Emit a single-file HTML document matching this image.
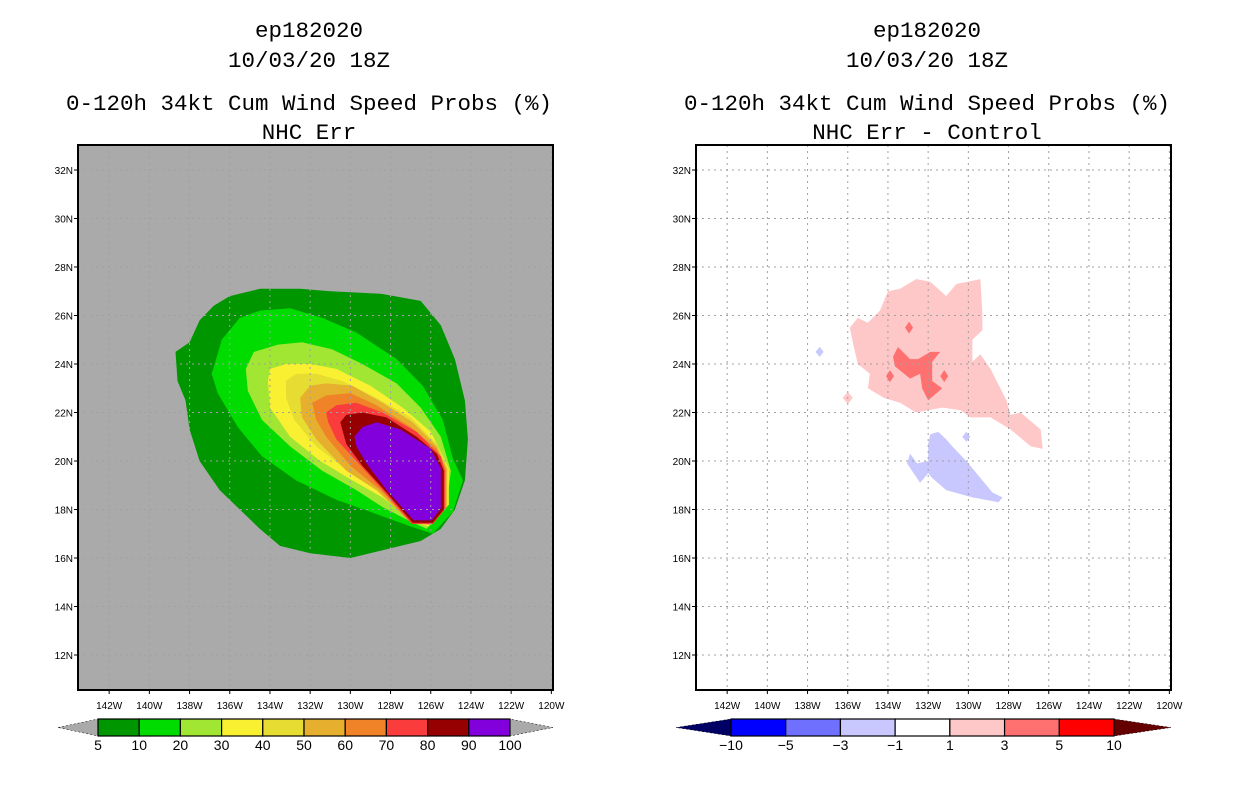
<!DOCTYPE html>
<html><head><meta charset="utf-8">
<style>
html,body{margin:0;padding:0;background:#fff;}
svg{display:block;font-family:"Liberation Sans",sans-serif;}
.t{font-family:"Liberation Mono",monospace;font-size:22.5px;fill:#000;}
.ax{font-size:10px;fill:#000;}
</style></head>
<body>
<svg id="root" width="1236" height="800" viewBox="0 0 1236 800">
</svg>
<script>
// ---------- data ----------
const lonTicks=[142,140,138,136,134,132,130,128,126,124,122,120];
const latTicks=[32,30,28,26,24,22,20,18,16,14,12];
const leftLevels=["5","10","20","30","40","50","60","70","80","90","100"];
const leftColors=["#009600","#00dc00","#a0e632","#faf032","#e6dc32","#e6af2d","#f08228","#fa3c3c","#960000","#8200dc"];
const rightLevels=["-10","-5","-3","-1","1","3","5","10"];
const rightColors=["#0000ff","#7070ff","#c8c8ff","#ffffff","#ffc8c8","#ff7070","#ff0000"];
// contour polygons [lonW, latN]
const p5=[[134.5,27.1],[132.5,27.1],[131.0,27.0],[128.5,26.9],[126.5,26.6],[125.5,25.6],[124.8,24.2],[124.3,22.5],[124.15,20.9],[124.3,19.2],[124.8,18.0],[125.5,17.2],[126.5,16.7],[128.0,16.4],[130.0,16.0],[132.0,16.2],[133.5,16.5],[134.5,17.2],[135.5,18.0],[136.5,18.8],[137.5,20.0],[138.0,21.3],[138.2,22.5],[138.6,23.3],[138.7,24.5],[138.0,24.9],[137.5,25.8],[136.8,26.4],[136.0,26.8]];
const p10=[[136.4,25.0],[135.5,25.9],[134.5,26.2],[133.0,26.3],[131.4,25.9],[129.7,25.3],[127.7,24.2],[126.4,23.1],[125.4,21.7],[124.9,20.1],[124.4,19.2],[124.9,17.9],[125.9,17.0],[127.0,17.3],[129.0,17.9],[130.7,18.4],[132.7,19.2],[134.4,20.2],[135.6,21.4],[136.6,22.8],[136.9,23.6],[136.5,24.7]];
const p20=[[135.2,23.8],[134.8,24.5],[133.6,24.8],[132.4,24.9],[130.9,24.6],[129.4,24.0],[127.7,23.2],[126.5,22.2],[125.5,21.0],[125.0,19.6],[125.2,18.3],[126.2,17.2],[127.0,17.5],[128.4,18.1],[129.7,18.8],[131.4,19.6],[133.0,20.6],[134.4,21.7],[135.1,22.9]];
const p30=[[134.1,23.3],[134.0,23.8],[133.2,24.0],[132.0,24.0],[130.7,23.8],[129.0,23.1],[127.4,22.2],[126.0,21.2],[125.1,19.7],[125.1,18.2],[126.1,17.3],[126.9,17.5],[128.4,18.5],[129.9,19.2],[131.5,20.0],[133.0,21.0],[134.0,22.2]];
const p40=[[133.2,23.3],[132.7,23.6],[131.7,23.6],[130.4,23.3],[128.7,22.6],[127.0,21.8],[125.7,20.7],[125.15,19.7],[125.15,18.15],[126.05,17.35],[127.0,17.5],[128.5,18.7],[130.0,19.5],[131.7,20.6],[132.8,21.7],[133.2,22.6]];
const p50=[[132.5,22.6],[132.0,23.1],[131.2,23.2],[129.9,23.1],[128.4,22.4],[126.9,21.6],[125.7,20.6],[125.2,19.7],[125.2,18.1],[126.0,17.35],[127.0,17.45],[128.7,18.8],[130.2,19.6],[131.7,20.9],[132.4,21.8]];
const p60=[[131.9,22.4],[131.2,22.7],[130.0,22.8],[128.7,22.3],[127.0,21.4],[125.7,20.5],[125.25,19.65],[125.25,18.05],[125.95,17.4],[127.0,17.45],[128.5,18.8],[130.0,19.8],[131.2,21.0],[131.7,21.7]];
const p70=[[131.2,22.0],[130.7,22.3],[129.7,22.4],[128.4,22.0],[126.7,21.2],[125.5,20.2],[125.3,19.6],[125.3,18.0],[125.9,17.4],[126.95,17.4],[128.5,18.9],[129.7,20.0],[130.7,20.9],[131.1,21.6]];
const p80=[[130.5,21.6],[130.2,21.9],[129.4,22.0],[128.2,21.8],[126.7,21.0],[125.7,20.3],[125.35,19.6],[125.35,18.0],[125.9,17.45],[126.9,17.45],[128.2,18.7],[129.4,19.8],[130.2,20.7]];
const p90=[[129.8,21.0],[129.4,21.4],[128.7,21.6],[127.5,21.3],[126.0,20.5],[125.5,19.7],[125.5,18.05],[125.95,17.55],[126.85,17.55],[128.2,18.8],[129.2,19.9],[129.7,20.6]];
// difference panel
const pinkMain=[[135.9,25.5],[135.5,25.9],[135.0,25.7],[134.4,26.2],[134.0,27.0],[133.4,27.1],[132.6,27.5],[131.9,27.4],[131.1,26.8],[130.6,27.3],[129.4,27.5],[129.3,26.1],[129.3,25.4],[129.8,25.0],[129.8,24.1],[129.4,24.4],[128.9,23.8],[128.1,22.5],[127.9,21.9],[127.4,22.0],[126.4,21.3],[126.3,20.5],[126.9,20.6],[127.9,21.3],[128.9,21.8],[129.9,21.8],[130.4,22.1],[131.3,22.2],[132.6,22.0],[133.4,22.4],[134.2,22.6],[135.0,23.0],[134.9,23.6],[135.5,24.0],[135.7,24.7]];
const pinkSmall=[[136.0,22.85],[135.75,22.6],[136.0,22.35],[136.25,22.6]];
const redMain=[[133.5,24.7],[132.9,24.2],[132.5,24.2],[131.9,24.5],[131.4,24.5],[131.8,24.1],[131.8,23.3],[131.3,23.0],[132.0,22.5],[132.3,23.0],[132.4,23.6],[132.9,23.4],[133.65,23.9],[133.75,24.3]];
const redDots=[[132.95,25.5],[133.9,23.5],[131.2,23.5]];
const blueMain=[[131.9,21.1],[131.5,21.2],[131.1,20.9],[130.8,20.6],[130.1,20.0],[129.4,19.3],[128.8,18.7],[128.3,18.5],[128.5,18.3],[129.8,18.5],[131.1,18.8],[131.8,19.3],[132.0,19.5],[132.4,19.1],[133.05,19.9],[132.9,20.3],[132.55,19.9],[132.0,20.0],[132.0,20.7]];
const blueDots=[[137.4,24.5],[130.1,21.0]];

// ---------- helpers ----------
const NS="http://www.w3.org/2000/svg";
const root=document.getElementById('root');
function mk(tag,attrs,parent){const e=document.createElementNS(NS,tag);for(const k in attrs)e.setAttribute(k,attrs[k]);(parent||root).appendChild(e);return e;}
const PW=475,PH=545,PY=145;
function xS(x0){return lon=>x0+(143.55-lon)*20.1;}
function yS(lat){return 170+(32-lat)*24.25;}
function ptsOf(poly,xs){return poly.map(p=>xs(p[0]).toFixed(1)+","+yS(p[1]).toFixed(1)).join(" ");}

function titles(cx,lines,g){
  const ys=[37,67,110,139];
  lines.forEach((s,i)=>{const t=mk('text',{x:cx,y:ys[i],'text-anchor':'middle',class:'t'},g);
    t.textContent=s;
    
    });
}
function axes(x0,g,bg){
  const xs=xS(x0);
  const r=mk('rect',{x:x0,y:PY,width:PW,height:PH,fill:bg},g);
  
  return xs;
}
function grid(x0,g,xs){
  const gg=mk('g',{stroke:'#a0a0a0','stroke-width':1,'stroke-dasharray':'2,4'},g);
  
  lonTicks.forEach(l=>{const x=xs(l);if(x>x0+1&&x<x0+PW-1)mk('line',{x1:x,x2:x,y1:PY,y2:PY+PH},gg);});
  latTicks.forEach(l=>{const y=yS(l);mk('line',{x1:x0,x2:x0+PW,y1:y,y2:y},gg);});
  const fr=mk('rect',{x:x0,y:PY,width:PW,height:PH,fill:'none',stroke:'#000','stroke-width':2},g);
  
  lonTicks.forEach(l=>{const x=xs(l);
    mk('line',{x1:x,x2:x,y1:PY+PH,y2:PY+PH+4,stroke:'#000'},g);
    const t=mk('text',{x:x,y:PY+PH+19,'text-anchor':'middle',class:'ax'},g);t.textContent=l+"W";
    });
  latTicks.forEach(l=>{const y=yS(l);
    mk('line',{x1:x0-4,x2:x0,y1:y,y2:y,stroke:'#000'},g);
    const t=mk('text',{x:x0-5,y:y+4,'text-anchor':'end',class:'ax'},g);t.textContent=l+"N";
    });
}
function poly(p,xs,fill,g,name){const e=mk('polygon',{points:ptsOf(p,xs),fill:fill},g);
  return e;}
function dot(p,xs,fill,g,name,rx,ry){const x=xs(p[0]),y=yS(p[1]);
  const e=mk('polygon',{points:`${x},${y-ry} ${x+rx},${y} ${x},${y+ry} ${x-rx},${y}`,fill:fill},g);
  }

function colorbar(x1,x2,tipL,tipR,colors,labels,leftTip,rightTip,g){
  const y=719,h=17,w=(x2-x1)/colors.length;
  mk('polygon',{points:`${tipL},${y+h/2} ${x1},${y} ${x1},${y+h}`,fill:leftTip,stroke:'#000','stroke-width':0.5,'stroke-dasharray':'2,2'},g);
  mk('polygon',{points:`${tipR},${y+h/2} ${x2},${y} ${x2},${y+h}`,fill:rightTip,stroke:'#000','stroke-width':0.5,'stroke-dasharray':'2,2'},g);
  colors.forEach((c,i)=>{const r=mk('rect',{x:x1+i*w,y:y,width:w,height:h,fill:c,stroke:'#000','stroke-width':1.2},g);
    });
  labels.forEach((s,i)=>{const t=mk('text',{x:x1+i*w,y:750,'text-anchor':'middle','font-size':14,'font-family':'Liberation Sans, sans-serif'},g);
    t.textContent=s.replace('-','\u2212');});
}

// ---------- left panel ----------
const gL=mk('g',{});
titles(309,["ep182020","10/03/20 18Z","0-120h 34kt Cum Wind Speed Probs (%)","NHC Err"],gL);
const xsL=axes(78,gL,'#aaaaaa');
[p5,p10,p20,p30,p40,p50,p60,p70,p80,p90].forEach((p,i)=>poly(p,xsL,leftColors[i],gL,'prob-contour-'+leftLevels[i]));
grid(78,gL,xsL);
const cbL=mk('g',{},gL);
colorbar(98,510,58,553,leftColors,leftLevels,'#aaaaaa','#aaaaaa',cbL);

// ---------- right panel ----------
const gR=mk('g',{});
titles(927,["ep182020","10/03/20 18Z","0-120h 34kt Cum Wind Speed Probs (%)","NHC Err - Control"],gR);
const xsR=axes(696,gR,'#ffffff');
poly(pinkMain,xsR,'#ffc8c8',gR,'diff-region-1-3');
poly(pinkSmall,xsR,'#ffc8c8',gR,'diff-region-1-3');
poly(redMain,xsR,'#ff7070',gR,'diff-region-3-5');
redDots.forEach(p=>dot(p,xsR,'#ff7070',gR,'diff-spot-3-5',4,6));
poly(blueMain,xsR,'#c8c8ff',gR,'diff-region-neg1-neg3');
blueDots.forEach(p=>dot(p,xsR,'#c8c8ff',gR,'diff-spot-neg',4,5));
grid(696,gR,xsR);
const cbR=mk('g',{},gR);
colorbar(731,1114,676,1171,rightColors,rightLevels,'#000064','#640000',cbR);
</script>
</body></html>
